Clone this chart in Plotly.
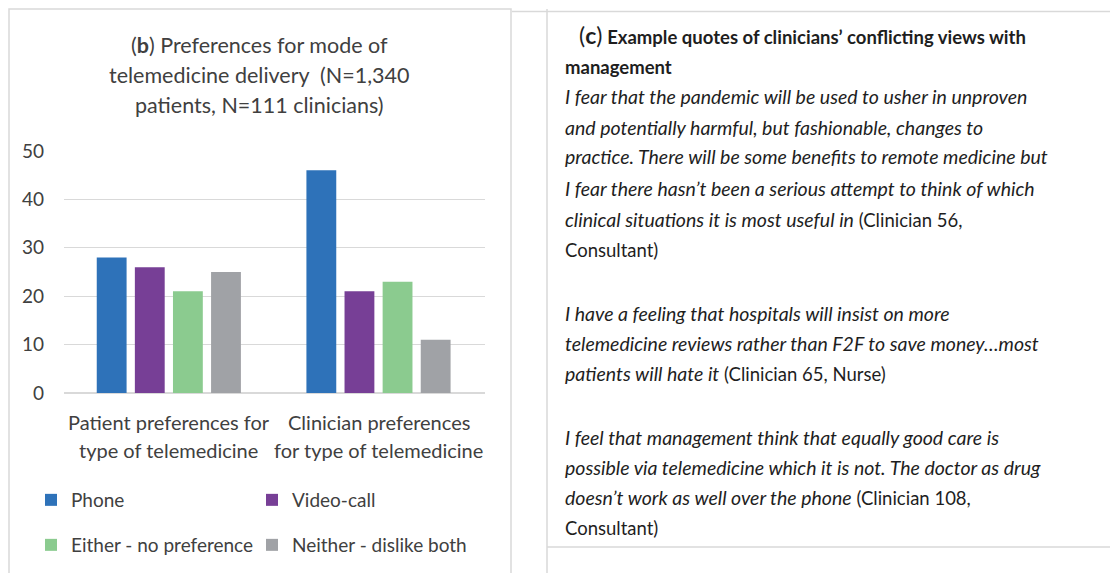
import plotly.graph_objects as go

W, H = 1118, 573
OFF = 8  # page body margin offset

# ---- data ----
categories = ["Patient preferences for type of telemedicine",
              "Clinician preferences for type of telemedicine"]
category_lines = [["Patient preferences for", "type of telemedicine"],
                  ["Clinician preferences", "for type of telemedicine"]]
series_names = ["Phone", "Video-call", "Either - no preference", "Neither - dislike both"]
phone = [28, 46]
video_call = [26, 21]
either = [21, 23]
neither = [25, 11]
series_values = [phone, video_call, either, neither]
series_colors = ["#2E72B9", "#773F96", "#8BCB8F", "#A0A2A6"]
y_ticks = [0, 10, 20, 30, 40, 50]

title_lines = ['(<b>b</b>) Preferences for mode of',
               'telemedicine delivery\u00a0 (N=1,340',
               'patients, N=111 clinicians)']

IT = '<span style="font-size:19.5px"><i>%s</i></span>'
heading_lines = ['<span style="font-size:23px">(<b>c</b>)</span> <b>Example quotes of clinicians\u2019 conflicting views with</b>',
                 '<b>management</b>']
quote_lines = [
    IT % 'I fear that the pandemic will be used to usher in unproven',
    IT % 'and potentially harmful, but fashionable, changes to',
    IT % 'practice. There will be some benefits to remote medicine but',
    IT % 'I fear there hasn\u2019t been a serious attempt to think of which',
    IT % 'clinical situations it is most useful in' + ' (Clinician 56,',
    'Consultant)',
    IT % 'I have a feeling that hospitals will insist on more',
    IT % 'telemedicine reviews rather than F2F to save money\u2026most',
    IT % 'patients will hate it' + ' (Clinician 65, Nurse)',
    IT % 'I feel that management think that equally good care is',
    IT % 'possible via telemedicine which it is not. The doctor as drug',
    IT % 'doesn\u2019t work as well over the phone' + ' (Clinician 108,',
    'Consultant)',
]

# ---- layout helpers (pixel -> paper) ----
def px(x):
    return (x - OFF) / W

def py(y):
    return 1 - (y - OFF) / H

FONT = "Lato"
CHART_TXT = "#404040"
TXT = "#1E1E1E"

fig = go.Figure()
for i, (name, vals, col) in enumerate(zip(series_names, series_values, series_colors)):
    fig.add_trace(go.Bar(
        x=categories, y=vals, name=name,
        marker=dict(color=col, line=dict(width=0)),
        legend="legend" if i < 2 else "legend2",
    ))

annotations = []
# chart title
for t, yy in zip(title_lines, [45, 75, 105]):
    annotations.append(dict(text=t, x=px(259), y=py(yy), xref="paper", yref="paper",
                            xanchor="center", yanchor="middle", showarrow=False,
                            font=dict(family=FONT, size=21.5, color=CHART_TXT)))
# category labels
for cat, lines in zip(categories, category_lines):
    for t, yy in zip(lines, [422, 450]):
        annotations.append(dict(text=t, x=cat, y=py(yy), xref="x", yref="paper",
                                xanchor="center", yanchor="middle", showarrow=False,
                                font=dict(family=FONT, size=20, color=CHART_TXT)))
# right panel
for t, yy, xx in zip(heading_lines, [35, 67], [577, 563]):
    annotations.append(dict(text=t, x=px(xx), y=py(yy), xref="paper", yref="paper",
                            xanchor="left", yanchor="middle", showarrow=False,
                            font=dict(family=FONT, size=18.5, color=TXT)))
quote_y = [97, 127, 157, 188, 219, 250, 313, 343, 373, 437, 467, 497, 528]
for t, yy in zip(quote_lines, quote_y):
    annotations.append(dict(text=t, x=px(563), y=py(yy), xref="paper", yref="paper",
                            xanchor="left", yanchor="middle", showarrow=False,
                            font=dict(family=FONT, size=18.5, color=TXT)))

border = dict(color="#D9D9D9", width=1.5)
shapes = [
    dict(type="rect", xref="paper", yref="paper", x0=px(9), x1=px(511), y0=py(600), y1=py(9), line=border),
    dict(type="line", xref="paper", yref="paper", x0=px(512), x1=px(1135), y0=py(11.5), y1=py(11.5), line=border),
    dict(type="line", xref="paper", yref="paper", x0=px(547), x1=px(547), y0=py(9), y1=py(600), line=border),
    dict(type="line", xref="paper", yref="paper", x0=px(547), x1=px(1135), y0=py(547), y1=py(547), line=border),
]

legend_common = dict(orientation="h", xanchor="left", yanchor="middle",
                     font=dict(family=FONT, size=19, color=CHART_TXT),
                     entrywidth=176, entrywidthmode="pixels", itemclick=False,
                     bgcolor="rgba(0,0,0,0)", traceorder="normal")

fig.update_layout(
    width=W, height=H, autosize=False,
    margin=dict(l=0, r=0, t=0, b=0, pad=0, autoexpand=False),
    paper_bgcolor="white", plot_bgcolor="white",
    barmode="group", bargap=0.273, bargroupgap=0.217,
    xaxis=dict(domain=[px(64), px(485)], showticklabels=False, showgrid=False,
               zeroline=False, showline=False, ticks="", fixedrange=True, automargin=False),
    yaxis=dict(domain=[py(393), py(151)], range=[0, 50], tickvals=y_ticks,
               showgrid=True, gridcolor="#D9D9D9", gridwidth=1.3,
               zeroline=True, zerolinecolor="#D9D9D9", zerolinewidth=1.5,
               ticks="", ticklabelstandoff=19, automargin=False,
               tickfont=dict(family=FONT, size=19, color=CHART_TXT), fixedrange=True),
    legend=dict(x=px(31), y=py(500), **legend_common),
    legend2=dict(x=px(31), y=py(545), **legend_common),
    annotations=annotations,
    shapes=shapes,
    showlegend=True,
)

fig.write_html("out.html")
